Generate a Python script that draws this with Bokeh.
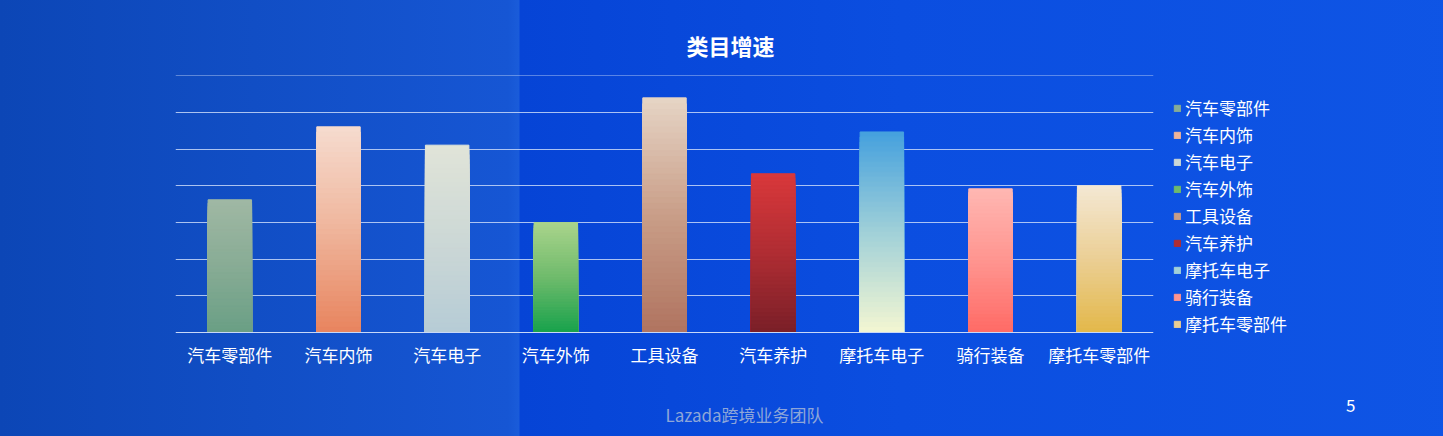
from bokeh.plotting import figure
from bokeh.models import ColumnDataSource, FixedTicker, Legend, LegendItem, Label, Range1d
from bokeh.embed import file_html
from bokeh.resources import INLINE

categories = ["汽车零部件", "汽车内饰", "汽车电子", "汽车外饰", "工具设备",
              "汽车养护", "摩托车电子", "骑行装备", "摩托车零部件"]
growth = [3.62, 5.61, 5.11, 3.00, 6.40, 4.33, 5.47, 3.92, 4.00]
grid_ticks = [1, 2, 3, 4, 5, 6, 7]
page_number = "5"
footer_text = "Lazada跨境业务团队"

# gradient stops of each bar: top, middle, bottom
top_colors = ["#a0b8a4", "#f6dccf", "#e0e4d8", "#aad48c", "#e6d5c6",
              "#d9383b", "#44a0de", "#ffb8b3", "#f4e8d4"]
mid_colors = ["#88ac95", "#efb59c", "#cdd8d6", "#70bb6c", "#c99e88",
              "#b02d33", "#a0d0d8", "#ff9590", "#ebcf95"]
bottom_colors = ["#6a9f85", "#e8845e", "#b6ccd6", "#18a24c", "#b07460",
                 "#7a1f28", "#f3f6d2", "#ff6b66", "#e3b84a"]

STEPS = 40


def mix(c1, c2, t):
    a = [int(c1[i:i + 2], 16) for i in (1, 3, 5)]
    b = [int(c2[i:i + 2], 16) for i in (1, 3, 5)]
    return "#%02x%02x%02x" % tuple(round(a[k] + (b[k] - a[k]) * t) for k in range(3))


def shade(i, f):
    # f = 0 at the bottom of the bar, 1 at the top
    if f < 0.5:
        return mix(bottom_colors[i], mid_colors[i], f / 0.5)
    return mix(mid_colors[i], top_colors[i], (f - 0.5) / 0.5)


# tall bars first, shorter ones painted over them -> vertical gradient
xs, tops, colors = [], [], []
for i, cat in enumerate(categories):
    for k in range(STEPS):
        xs.append(cat)
        tops.append(growth[i] * (STEPS - k) / STEPS)
        colors.append(shade(i, (STEPS - k - 0.5) / STEPS))
source = ColumnDataSource(data=dict(x=xs, top=tops, color=colors))

# the frame runs down to the bottom of the page so the footer can sit in it;
# the x axis is pinned at 0 instead of the frame edge
Y_TOP = 7.01
CHART_PX = 257
FRAME_PX = 361
y_start = Y_TOP - FRAME_PX * Y_TOP / CHART_PX

p = figure(
    x_range=categories,
    y_range=Range1d(y_start, Y_TOP),
    frame_width=978,
    frame_height=FRAME_PX,
    output_backend="svg",
    toolbar_location=None,
    min_border_left=175,
    min_border_right=290,
    min_border_top=75,
    min_border_bottom=0,
)
p.styles = {"background": "linear-gradient(90deg, #0c46b6 0px, #1656d4 508px, #1a5cda 519px, "
                          "#0644d6 520px, #0b4ee0 900px, #1662ee 100%)"}
p.border_fill_color = None
p.background_fill_color = None
p.outline_line_color = None

bars = p.vbar(x="x", top="top", bottom=0, width=0.4, color="color", source=source)

p.title.text = "类目增速"
p.title.text_color = "white"
p.title.text_font = "Noto Sans CJK SC"
p.title.text_font_size = "22px"
p.title.text_font_style = "bold"
p.title.align = "left"
p.title.offset = 511
p.title.standoff = 29

p.yaxis.visible = False
p.ygrid.ticker = FixedTicker(ticks=grid_ticks)
p.ygrid.grid_line_color = "#c8d8f8"
p.ygrid.grid_line_alpha = 0.85
p.xgrid.grid_line_color = None

p.xaxis.fixed_location = 0
p.xaxis.axis_line_color = "#c8d8f8"
p.xaxis.major_tick_line_color = None
p.xaxis.minor_tick_line_color = None
p.xaxis.major_label_text_color = "white"
p.xaxis.major_label_text_font = "Noto Sans CJK SC"
p.xaxis.major_label_text_font_size = "17px"
p.xaxis.major_label_standoff = 3

# legend: categories in column 1; the page number sits in the last row of
# column 2 (blank rows in between), which puts it at the bottom-right corner
blank = p.scatter(x=[], y=[], alpha=0)
items = [LegendItem(label=cat, renderers=[bars], index=i * STEPS + STEPS // 2)
         for i, cat in enumerate(categories)]
items += [LegendItem(label=" ", renderers=[blank]) for _ in range(14)]
items.append(LegendItem(label=page_number, renderers=[blank]))
legend = Legend(items=items, location="top_left", orientation="vertical", nrows=12)
legend.margin = 20
legend.padding = 9
legend.border_line_color = None
legend.background_fill_alpha = 0
legend.glyph_width = 8
legend.glyph_height = 8
legend.label_standoff = 4
legend.label_height = 25
legend.label_width = 147
legend.spacing = 2
legend.label_text_color = "white"
legend.label_text_font = "Noto Sans CJK SC"
legend.label_text_font_size = "17px"
p.add_layout(legend, "right")

# footer, px from the frame's bottom-left corner
footer = Label(x=569, y=22, x_units="screen", y_units="screen", text=footer_text,
               text_align="center", text_baseline="middle", text_color="#8ea6d8",
               text_font="Noto Sans CJK SC", text_font_size="17px")
p.add_layout(footer)

open("out.html", "w").write(file_html(p, INLINE))
